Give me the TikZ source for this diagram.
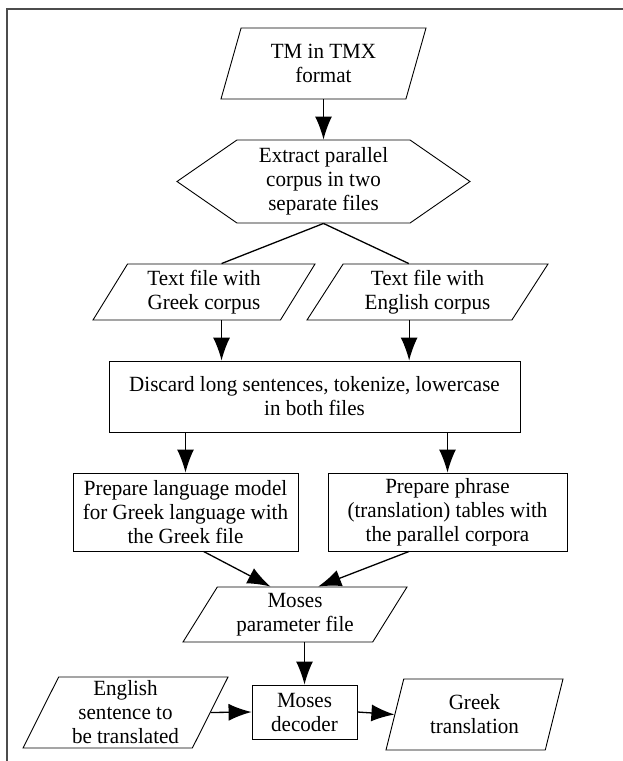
\documentclass[tikz,border=0pt]{standalone}
\usepackage{fontspec}
\setmainfont{Liberation Serif}[FakeStretch=0.97]
\usetikzlibrary{calc,positioning,arrows.meta,shapes.geometric,shapes.symbols}
\tikzset{
  >={Latex[length=23pt,width=17pt]},
  boxtext/.style={font=\fontsize{21.7}{24}\selectfont, align=center},
  % input / output files
  iofile/.style={
    trapezium,
    trapezium stretches body,
    draw=black, line width=0.9pt,
    inner sep=0pt,
    boxtext},
  lean/.code={\pgfmathsetmacro\leancomp{180-#1}%
    \tikzset{trapezium left angle=#1, trapezium right angle=\leancomp}},
  process/.style={
    rectangle,
    draw=black, line width=0.9pt,
    inner sep=0pt,
    boxtext},
  extract/.style={
    signal, signal to=west and east,
    signal pointer angle=69.4,
    draw=black, line width=0.9pt,
    inner sep=0pt,
    minimum width=293pt, minimum height=83pt,
    boxtext},
  link/.style={draw, line width=1.3pt},
}

\begin{document}
\begin{tikzpicture}[x=1pt,y=-1pt]
  \useasboundingbox (0,0) rectangle (623,761);
  % frame round the figure
  \draw[gray!60!black, line width=1.2pt] (7,761) -- (7,9) -- (623,9);
  \node[iofile, lean=62.5, minimum width=205pt, minimum height=71pt]
      (tmx) at (323.5,63.5) {TM in TMX\\format};
  \node[extract] (split) at (323.5,181.5) {Extract parallel\\corpus in two\\separate files};
  \node[iofile, lean=51.8, minimum width=222pt, minimum height=56pt]
      (grfile) at (204,292) {Text file with\\Greek corpus};
  \node[iofile, lean=50.6, minimum width=241pt, minimum height=56pt]
      (enfile) at (427.5,292) {Text file with\\English corpus};
  \node[process, minimum width=411pt, minimum height=71pt]
      (discard) at (314.5,396.5) {Discard long sentences, tokenize, lowercase\\in both files};
  \node[process, minimum width=225pt, minimum height=78pt]
      (langmodel) at (185.5,512) {Prepare language model\\for Greek language with\\the Greek file};
  \node[process, minimum width=239pt, minimum height=78pt]
      (phrasetab) at (447.5,512) {Prepare phrase\\(translation) tables with\\the parallel corpora};
  \node[iofile, lean=51.3, minimum width=224pt, minimum height=55pt]
      (params) at (295,614.5) {Moses\\parameter file};
  \node[process, minimum width=105pt, minimum height=54pt]
      (decoder) at (304.5,712) {Moses\\decoder};
  \node[iofile, lean=60.6, minimum width=205pt, minimum height=71pt]
      (source) at (125.5,712.5) {English\\sentence to\\be translated};
  \node[iofile, lean=65.7, minimum width=177pt, minimum height=71pt]
      (target) at (474.5,714.5) {Greek\\translation};
  % points on the slanted boxes
  \coordinate (grtop) at ($(grfile.top left corner)!.5!(grfile.top right corner)$);
  \coordinate (entop) at ($(enfile.top left corner)!.32!(enfile.top right corner)$);
  \coordinate (enbot) at ($(enfile.bottom left corner)!.5!(enfile.bottom right corner)$);
  \coordinate (lmout) at ($(langmodel.south west)!.58!(langmodel.south east)$);
  \coordinate (ptout) at ($(phrasetab.south west)!.34!(phrasetab.south east)$);
  \coordinate (parin1) at ($(params.top left corner)!.28!(params.top right corner)$);
  \coordinate (parin2) at ($(params.top left corner)!.53!(params.top right corner)$);
  % connectors
  \draw[link,->] (tmx.south) -- (tmx.south |- split.north);
  \draw[link] (split.south) -- (grtop);
  \draw[link] (split.south) -- (entop);
  \draw[link,->] (grtop |- grfile.south) -- (grtop |- discard.north);
  \draw[link,->] (enbot) -- (enbot |- discard.north);
  \draw[link,->] (langmodel.north |- discard.south) -- (langmodel.north);
  \draw[link,->] (phrasetab.north |- discard.south) -- (phrasetab.north);
  \draw[link,->] (lmout) -- (parin1);
  \draw[link,->] (ptout) -- (parin2);
  \draw[link,->] (decoder.north |- params.south) -- (decoder.north);
  \draw[link,->] (source.east) -- (decoder.west);
  \draw[link,->] (decoder.east) -- (target.west);
\end{tikzpicture}
\end{document}
